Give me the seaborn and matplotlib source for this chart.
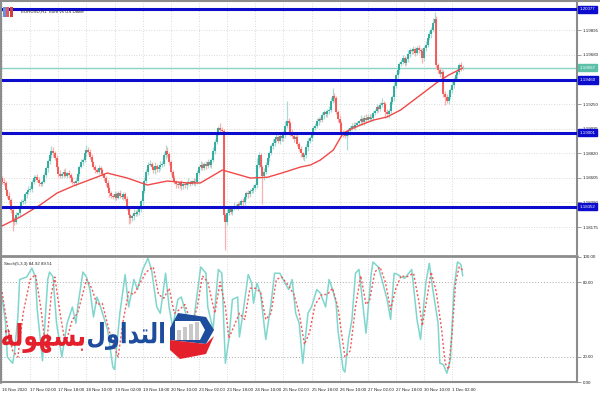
import numpy as np
import pandas as pd
import seaborn as sns
import matplotlib.pyplot as plt
from matplotlib.patches import Polygon, Rectangle, PathPatch
from matplotlib.textpath import TextPath
from matplotlib.font_manager import FontProperties
from matplotlib.transforms import Affine2D, IdentityTransform

sns.set_theme(style="white")
plt.rcParams['font.family'] = ['Liberation Sans', 'DejaVu Sans']

# EURUSD H1 closes, in pips above 1.18000
closes = [57, 56, 50, 45, 41, 32, 24, 22, 28, 30, 36, 39, 40, 46, 48, 50, 51, 57, 60, 61,
          59, 56, 55, 57, 63, 69, 75, 80, 84, 82, 78, 70, 64, 62, 64, 66, 62, 65, 63, 60,
          57, 56, 58, 64, 70, 74, 76, 82, 85, 83, 79, 74, 70, 67, 66, 69, 67, 64, 60, 56,
          52, 47, 45, 44, 46, 43, 47, 45, 44, 46, 42, 34, 28, 25, 27, 30, 29, 31, 33, 40,
          49, 58, 66, 72, 73, 70, 67, 71, 68, 70, 72, 73, 80, 84, 81, 74, 66, 60, 57, 55,
          54, 56, 53, 55, 54, 56, 57, 55, 58, 56, 57, 65, 70, 72, 69, 73, 71, 74, 72, 76,
          84, 92, 100, 104, 102, 101, 28, 22, 30, 33, 31, 34, 36, 35, 38, 37, 40, 39, 44, 47,
          46, 49, 50, 52, 54, 72, 80, 70, 62, 66, 72, 78, 82, 88, 91, 94, 96, 93, 97, 95,
          98, 106, 110, 108, 100, 97, 94, 96, 90, 86, 82, 79, 80, 87, 93, 95, 100, 104, 106, 110,
          112, 111, 115, 118, 116, 119, 120, 128, 132, 130, 118, 112, 108, 100, 98, 97, 99, 101, 104, 106,
          105, 107, 108, 110, 112, 109, 113, 111, 114, 112, 113, 117, 119, 122, 121, 124, 126, 125, 118, 116,
          119, 127, 131, 141, 150, 155, 160, 162, 165, 161, 164, 169, 172, 171, 173, 170, 174, 172, 171, 165,
          174, 177, 183, 186, 190, 196, 199, 159, 155, 151, 153, 134, 131, 128, 131, 137, 142, 147, 150, 153,
          159, 157, 157]
first_open = 60
wick_up = [2, 3, 2, 1, 3, 2, 4, 2, 3, 1, 2, 3, 2, 2, 1, 3, 2, 2, 3, 2,
           3, 2, 1, 2, 3, 2, 2, 3, 4, 3, 2, 2, 1, 3, 2, 2, 3, 1, 2, 2,
           2, 1, 3, 2, 2, 3, 2, 3, 4, 2, 3, 2, 1, 2, 2, 3, 2, 2, 1, 2,
           3, 2, 2, 1, 3, 2, 2, 3, 1, 2, 2, 3, 2, 1, 2, 3, 2, 2, 3, 2,
           2, 3, 2, 2, 3, 1, 2, 3, 2, 2, 3, 2, 3, 5, 3, 2, 2, 1, 3, 2,
           2, 2, 3, 1, 2, 2, 3, 2, 1, 2, 3, 2, 2, 3, 2, 1, 2, 3, 2, 2,
           3, 2, 3, 2, 4, 3, 2, 2, 3, 1, 2, 2, 3, 2, 1, 2, 2, 3, 2, 2,
           3, 2, 1, 2, 2, 6, 3, 2, 2, 3, 2, 3, 2, 2, 3, 2, 4, 2, 3, 2,
           3, 4, 18, 3, 2, 3, 2, 2, 3, 2, 2, 1, 2, 3, 2, 2, 3, 2, 2, 3,
           2, 2, 3, 2, 1, 2, 3, 3, 7, 3, 2, 2, 3, 2, 2, 1, 2, 3, 2, 2,
           3, 2, 2, 1, 3, 2, 2, 3, 2, 2, 3, 2, 2, 3, 2, 3, 4, 2, 2, 3,
           2, 3, 2, 3, 2, 3, 2, 2, 3, 2, 2, 3, 2, 2, 3, 2, 2, 3, 2, 3,
           2, 3, 2, 3, 2, 4, 6, 3, 2, 2, 3, 2, 2, 3, 2, 2, 3, 2, 2, 3,
           2, 3, 2]
wick_dn = [2, 2, 3, 2, 3, 2, 10, 3, 2, 2, 3, 2, 1, 2, 3, 2, 2, 3, 2, 2,
           2, 3, 2, 2, 1, 2, 3, 2, 2, 3, 2, 2, 3, 2, 2, 3, 1, 2, 2, 3,
           2, 2, 3, 2, 2, 1, 2, 2, 3, 2, 2, 3, 2, 2, 1, 2, 3, 2, 2, 3,
           2, 3, 2, 2, 3, 2, 1, 2, 2, 3, 2, 2, 8, 4, 2, 3, 2, 2, 3, 2,
           3, 2, 2, 3, 1, 2, 2, 3, 2, 2, 3, 2, 2, 3, 2, 2, 3, 2, 2, 3,
           2, 2, 3, 2, 2, 3, 2, 2, 1, 2, 3, 2, 2, 3, 2, 2, 3, 2, 2, 3,
           2, 3, 2, 2, 3, 2, 4, 25, 3, 2, 2, 3, 2, 2, 3, 2, 2, 3, 2, 2,
           3, 2, 2, 3, 2, 2, 3, 2, 24, 3, 2, 2, 3, 2, 2, 3, 2, 2, 3, 2,
           2, 3, 2, 2, 3, 2, 2, 3, 2, 2, 3, 2, 4, 2, 3, 2, 2, 3, 2, 2,
           3, 2, 2, 3, 2, 2, 3, 2, 2, 3, 2, 3, 2, 3, 2, 2, 12, 2, 3, 2,
           2, 3, 2, 2, 3, 2, 2, 3, 2, 2, 2, 3, 2, 2, 3, 2, 2, 3, 5, 2,
           3, 2, 2, 3, 2, 2, 3, 2, 2, 3, 2, 2, 3, 2, 2, 3, 2, 2, 3, 4,
           2, 3, 2, 2, 3, 2, 2, 3, 3, 2, 3, 3, 7, 2, 3, 2, 2, 3, 2, 2,
           2, 3, 2]

# moving average (red line), bar index / pips
ma_idx = [0, 10.3, 21.6, 31.3, 40.4, 54.1, 59.8, 71.2, 82.6, 94, 105.4, 112.8, 125.3, 141.2, 151,
          160, 169.7, 175.4, 181, 188.4, 194, 199.8, 203.8, 211.3, 219, 226.7, 238, 247.7, 254, 262]
ma_pips = [18.4, 26.2, 36.7, 47.2, 53.3, 61.2, 64.7, 60.3, 54.2, 57.7, 56, 56, 67.3, 60.3, 61,
           65.1, 69.9, 71.7, 76, 84.8, 99.6, 104, 106.6, 111, 113.7, 119.8, 132.9, 144.2, 150.3, 156.5]

# Stochastic(5,3,3) main line
st_idx = [0, 2, 3, 6, 7, 9, 10, 14, 17, 19, 20, 23, 26, 27, 29, 31, 34, 37, 40, 42,
          43, 46, 48, 50, 52, 54, 56, 60, 63, 64, 67, 70, 72, 75, 77, 80, 83, 85, 88, 90,
          93, 95, 97, 100, 102, 105, 108, 110, 113, 116, 117, 120, 123, 125, 127, 129, 131, 134, 135, 137,
          140, 142, 143, 145, 147, 150, 153, 155, 158, 161, 163, 165, 167, 169, 171, 174, 176, 179, 181, 184,
          186, 188, 190, 191, 194, 195, 197, 199, 201, 203, 207, 210, 211, 214, 216, 219, 221, 223, 225, 227,
          229, 233, 236, 238, 241, 243, 245, 248, 249, 251, 253, 255, 257, 259, 261, 262]
st_main = [68, 47, 20, 15, 23, 52, 82, 84, 91, 84, 58, 17, 82, 88, 84, 47, 20, 47, 60, 47,
           60, 88, 84, 74, 52, 68, 60, 42, 12, 10, 55, 86, 60, 82, 74, 90, 99, 90, 60, 55,
           87, 60, 44, 66, 68, 52, 39, 60, 92, 87, 60, 42, 90, 87, 15, 34, 66, 68, 36, 55,
           86, 79, 63, 79, 71, 34, 63, 87, 87, 79, 74, 82, 55, 47, 15, 55, 60, 74, 71, 60,
           82, 74, 63, 42, 10, 8, 34, 50, 87, 90, 39, 87, 96, 92, 82, 66, 50, 87, 86, 84,
           83, 90, 50, 34, 79, 95, 74, 47, 15, 14, 7, 18, 74, 96, 94, 84.92]
# signal line
sg_idx = [0, 3, 6, 9, 12, 16, 19, 22, 25, 28, 30, 33, 36, 40, 43, 48, 51, 54, 57, 62,
          66, 69, 72, 75, 78, 82, 86, 89, 92, 95, 98, 101, 104, 108, 111, 114, 117, 121, 124, 127,
          129, 132, 135, 138, 141, 144, 147, 150, 153, 156, 159, 163, 166, 169, 172, 175, 178, 182, 185, 188,
          191, 195, 198, 201, 204, 207, 209, 212, 215, 218, 221, 224, 227, 230, 234, 237, 239, 242, 244, 247,
          250, 252, 254, 256, 258, 260, 262]
sg_vals = [72, 45, 25, 20, 55, 82, 86, 60, 25, 70, 84, 55, 30, 50, 55, 82, 75, 62, 63, 35,
           20, 50, 72, 70, 78, 88, 92, 70, 67, 75, 55, 58, 62, 45, 60, 85, 80, 55, 80, 60,
           35, 45, 55, 50, 75, 75, 72, 50, 55, 82, 84, 77, 70, 55, 30, 40, 62, 70, 70, 75,
           60, 20, 25, 60, 85, 62, 65, 88, 92, 80, 58, 75, 85, 84, 87, 65, 45, 70, 88, 72,
           42, 15, 10, 40, 80, 92, 89.51]

levels = [1.20077, 1.19460, 1.19001, 1.18352]
last_price = 1.19567
price_ticks = [1.18175, 1.18390, 1.18605, 1.18820, 1.19035, 1.19250, 1.19465, 1.19680, 1.19895]
hidden_ticks = [1.19465]  # covered by the 1.19460 level box in the reference
time_ticks = [0, 16, 32, 48, 64, 80, 96, 112, 128, 144, 160, 176, 192, 208, 224, 240, 256]
time_labels = ["16 Nov 2020", "17 Nov 02:00", "17 Nov 18:00", "18 Nov 10:00", "19 Nov 02:00",
               "19 Nov 18:00", "20 Nov 10:00", "23 Nov 02:00", "23 Nov 18:00", "24 Nov 10:00",
               "25 Nov 02:00", "25 Nov 18:00", "26 Nov 10:00", "27 Nov 02:00", "27 Nov 18:00",
               "30 Nov 10:00", "1 Dec 02:00"]

df = pd.DataFrame({"close": 1.18 + np.array(closes) / 1e4})
df["open"] = df["close"].shift(1).fillna(1.18 + first_open / 1e4)
df["high"] = df[["open", "close"]].max(axis=1) + np.array(wick_up) / 1e4
df["low"] = df[["open", "close"]].min(axis=1) - np.array(wick_dn) / 1e4
df["bull"] = df["close"] >= df["open"]
idx = np.arange(len(df))

W, H = 600, 400
def box(x0, y0, x1, y1):
    return [x0 / W, 1 - y1 / H, (x1 - x0) / W, (y1 - y0) / H]

fig = plt.figure(figsize=(6, 4), dpi=100)
ax = fig.add_axes(box(1, 3, 577, 254))
ax2 = fig.add_axes(box(1, 257, 577, 382))
xlim = (-0.6, 327)
grid_c = "#cfcfcf"
axis_c = "#8c8c8c"
fs = 3.2

# price panel
for t in time_ticks:
    ax.axvline(t, color=grid_c, lw=0.6, ls=(0, (1, 2)), zorder=0)
    ax2.axvline(t, color=grid_c, lw=0.6, ls=(0, (1, 2)), zorder=0)
for p in price_ticks:
    ax.axhline(p, color=grid_c, lw=0.6, ls=(0, (1, 2)), zorder=0)

bull_c, bear_c = "#26a69a", "#ef5350"
wick_cols = np.where(df["bull"], "#a8dcd5", "#f6b3b1")
body_cols = np.where(df["bull"], bull_c, bear_c)
ax.vlines(idx, df["low"], df["high"], colors=wick_cols, lw=0.9, zorder=2)
ax.vlines(idx, df[["open", "close"]].min(axis=1), df[["open", "close"]].max(axis=1),
          colors=body_cols, lw=1.3, zorder=3)

sns.lineplot(x=ma_idx, y=1.18 + np.array(ma_pips) / 1e4, ax=ax, color="#f04848", lw=1,
             estimator=None, zorder=4)

ax.axhline(last_price, color="#88d3c4", lw=1, zorder=1)
for lv in levels:
    ax.axhline(lv, color="#0c0ccd", lw=2.2, zorder=5)

ax.set_xlim(*xlim)
ax.set_ylim(1.17939, 1.20133)
ax.set_xticks([])
ax.yaxis.tick_right()
ax.set_yticks(price_ticks)
ax.set_yticklabels(["" if p in hidden_ticks else f"{p:.5f}" for p in price_ticks])
ax.tick_params(axis="y", labelsize=fs, length=3, width=0.6, color=axis_c, pad=1, labelcolor="#222222")
for s in ["left", "bottom", "top"]:
    ax.spines[s].set_visible(False)
ax.spines["right"].set_color(axis_c)
ax.spines["right"].set_linewidth(1.5)

for lv, fc in [(v, "#0c0ccd") for v in levels] + [(last_price, "#5cc0a8")]:
    ax.text(1.005, lv, f"{lv:.5f}", transform=ax.get_yaxis_transform(), fontsize=fs, color="white",
            va="center", ha="left", zorder=10, clip_on=False,
            bbox=dict(boxstyle="square,pad=0.35", fc=fc, ec=fc))

ax.text(0.034, 0.965, "EURUSD,H1  Euro vs US Dollar", transform=ax.transAxes, fontsize=fs,
        va="center", ha="left", color="#222222", zorder=10)
for k, c in enumerate(["#6d8fd8", "#e05a5a", "#d04040"]):
    ax.add_patch(Rectangle((0.004 + k * 0.0055, 0.945), 0.005, 0.04, transform=ax.transAxes,
                           fc=c, ec="none", clip_on=False, zorder=10))

# stochastic panel
ax2.axhline(80, color="#a8a8a8", lw=0.7, ls=(0, (1, 2)))
ax2.axhline(20, color="#a8a8a8", lw=0.7, ls=(0, (1, 2)))
sns.lineplot(x=st_idx, y=st_main, ax=ax2, color="#7fd6cc", lw=1.1, estimator=None, zorder=3)
sns.lineplot(x=sg_idx, y=sg_vals, ax=ax2, color="#f05a5a", lw=1, estimator=None, zorder=4)
ax2.lines[-1].set_linestyle((0, (1.5, 1.5)))
ax2.set_xlim(*xlim)
ax2.set_ylim(0, 100)
ax2.yaxis.tick_right()
ax2.set_yticks([0, 20, 80, 100])
ax2.set_yticklabels(["0.00", "20.00", "80.00", "100.00"])
ax2.tick_params(axis="y", labelsize=fs, length=3, width=0.6, color=axis_c, pad=1, labelcolor="#222222")
ax2.set_xticks(time_ticks)
ax2.set_xticklabels(time_labels)
ax2.tick_params(axis="x", labelsize=fs, length=3, width=0.6, color=axis_c, pad=1.5, labelcolor="#222222")
for lab in ax2.get_xticklabels():
    lab.set_ha("left")
for s in ["left", "top"]:
    ax2.spines[s].set_visible(False)
for s in ["right", "bottom"]:
    ax2.spines[s].set_color(axis_c)
    ax2.spines[s].set_linewidth(1.5)
ax2.text(0.006, 0.96, "Stoch(5,3,3) 84.92 89.51", transform=ax2.transAxes, fontsize=fs,
         va="top", ha="left", color="#222222")

# frame lines
fig.add_artist(plt.Line2D([0, 577 / W], [1 - 255.5 / H] * 2, color=axis_c, lw=2))
fig.add_artist(plt.Line2D([0.5 / W] * 2, [1 - 383 / H, 1 - 1 / H], color=axis_c, lw=1.5))
fig.add_artist(plt.Line2D([0, 1], [1 - 1 / H] * 2, color=axis_c, lw=1.5))

# watermark logo (Arabic shaped by hand: presentation forms in visual order)
word_blue = "\uFEDD\uFEED\uFE8D\uFEAA\uFE98\uFEDF\uFE8D"
word_red = "\uFE94\uFEDF\uFEEE\uFEEC\uFEB4\uFE91"
prop = FontProperties(family="DejaVu Sans", weight="bold")
def word_patch(s, x0, x1, y_top, y_bot, color):
    tp = TextPath((0, 0), s, size=20, prop=prop)
    ext = tp.get_extents()
    sx = (x1 - x0) / ext.width
    sy = (y_bot - y_top) / ext.height
    tr = Affine2D().translate(-ext.x0, -ext.y0).scale(sx, sy).translate(x0, H - y_bot)
    fig.add_artist(PathPatch(tp, transform=tr + IdentityTransform(), fc=color, ec="none"))
word_patch(word_red, 2, 84, 323, 353, "#e3202b")
word_patch(word_blue, 88, 164, 322, 350, "#1f4d9e")

def fp(pts):
    return [(x / W, 1 - y / H) for x, y in pts]
fig.add_artist(Polygon(fp([(170, 328), (178, 313), (206, 317), (214, 330), (206, 344), (170, 340)]),
                       closed=True, fc="#1f4d9e", ec="none", transform=fig.transFigure))
fig.add_artist(Polygon(fp([(170, 340), (206, 344), (214, 336), (206, 354), (180, 359), (170, 350)]),
                       closed=True, fc="#e3202b", ec="none", transform=fig.transFigure))
fig.add_artist(Polygon(fp([(175, 321), (200, 321), (205, 330), (200, 340), (175, 340)]),
                       closed=True, fc="white", ec="none", transform=fig.transFigure))
for k, h in enumerate([10, 13, 16, 18]):
    fig.add_artist(Rectangle(((177 + k * 6) / W, 1 - 340 / H), 4 / W, h / H, fc="#c8c8c8",
                             ec="none", transform=fig.transFigure))

fig.savefig("out.png", dpi=100)
